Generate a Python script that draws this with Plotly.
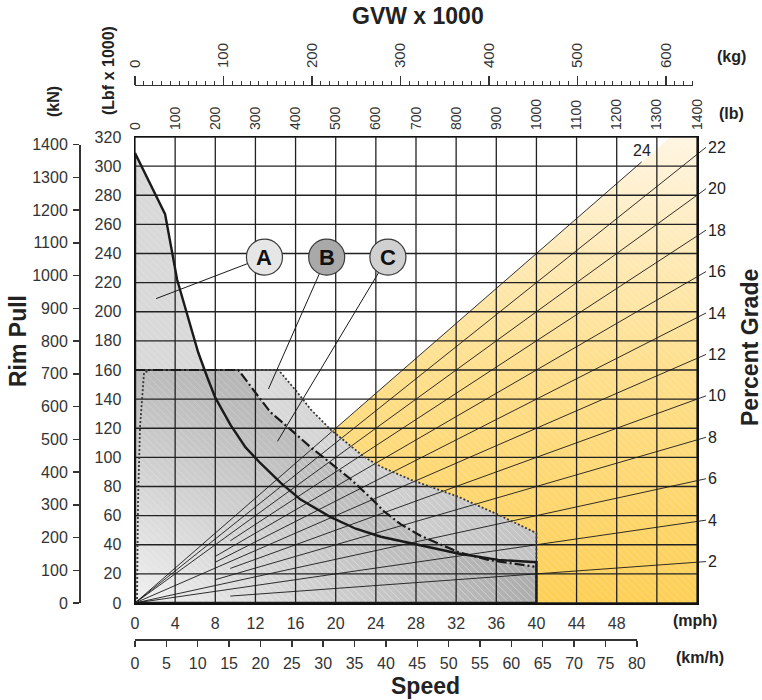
import numpy as np
import plotly.graph_objects as go

W, H = 762, 700

# ---------------- data ----------------
MPH_TICKS = list(range(0, 49, 4))
MPH_GRID = list(range(0, 57, 4))
KMH_TICKS = list(range(0, 81, 5))
KLBF_TICKS = list(range(0, 321, 20))
KN_TICKS = list(range(0, 1401, 100))
LB_TICKS = list(range(0, 1401, 100))
KG_TICKS = list(range(0, 601, 100))

MPH_MAX = 56
KLBF_MAX = 320
LB_MAX = 1400          # GVW (lb x1000) spanning the full speed width
KMH_MAX = 80
KG_MAX = 630
KN_MAX = 1400
KMH_PER_MPH = 1.6
LB_PER_KG = 2.20462
KN_PER_KLBF = 4.44822
MAX_SPEED_MPH = 40

GRADES = [2, 4, 6, 8, 10, 12, 14, 16, 18, 20, 22, 24]
GRADE_START_MPH = [9.5, 0, 0, 8, 9.5, 0, 8, 8, 9.5, 0, 0, 0]
GRADE_END_GVW = [1400, 1400, 1400, 1400, 1400, 1400, 1400, 1400, 1400, 1400, 1400, 1262]

SOLID_MPH = [0, 3.0, 4.2, 5.3, 6.3, 7.2, 8.0, 9.5, 11.0, 12.5, 14.5, 16.5, 19.5, 22.0, 24.5, 27.5, 32.2, 36.2, 40.0]
SOLID_KLBF = [309, 267, 222, 195, 172, 155, 141, 122.5, 107, 96, 82.6, 71, 59, 51, 45.5, 41, 34, 29.6, 28]

DASHDOT_MPH = [0, 10.3, 12.0, 13.5, 15.2, 17.5, 19.5, 21.5, 23.5, 24.8, 26.5, 28.5, 32.2, 35.2, 39.8]
DASHDOT_KLBF = [160, 160, 144.5, 131, 121, 107, 96, 85, 72, 63, 54, 46, 35, 29.6, 25]

DOTTED_MPH = [0.2, 0.3, 0.5, 0.9, 1.5, 14.3, 16.2, 17.5, 19.5, 20.5, 22.8, 24.5, 27.5, 32.2, 36.2, 40.0, 40.0]
DOTTED_KLBF = [0, 69, 121, 158, 160, 160, 144.5, 133, 119, 113.5, 100.5, 93.6, 84.6, 73, 60.6, 48, 0]

LABELS = ["A", "B", "C"]
LABEL_MPH = [12.9, 19.1, 25.2]
LABEL_KLBF = [237.5, 237.5, 237.5]
LABEL_FILL = ["#e6e6e6", "#a9a9a9", "#d0d0d0"]
POINTER_MPH = [2.1, 13.3, 14.2]
POINTER_KLBF = [209, 147, 111]

# ---------------- geometry ----------------
PL, PR, PT, PB = 135, 697, 137, 603
PX_PER_MPH = (PR - PL) / MPH_MAX
PX_PER_KLBF = (PB - PT) / KLBF_MAX
LB_PER_MPH = LB_MAX / MPH_MAX


def fx(px):
    return px / W


def fy(py):
    return 1 - py / H


FONT = "Liberation Sans, Arial, Helvetica, sans-serif"
TXT = "#333333"
DARK = "#1a1a1a"

fig = go.Figure()

# yellow region under the 24 % line
g_top = GRADES[-1] / 100 * LB_PER_MPH
x_top = KLBF_MAX / g_top
yel_x = [0, x_top, MPH_MAX, MPH_MAX, 0]
yel_y = [0, KLBF_MAX, KLBF_MAX, 0, 0]
fig.add_trace(go.Scatter(
    x=yel_x, y=yel_y, fill="toself", mode="lines", line=dict(width=0),
    fillgradient=dict(type="vertical",
                      colorscale=[[0, "#fdcf56"], [0.5, "#fedf8c"], [1, "#fff5e2"]]),
    hoverinfo="skip", showlegend=False))

# C region (dotted outline)
cx = [0] + DOTTED_MPH + [0]
cy = [0] + DOTTED_KLBF + [0]
fig.add_trace(go.Scatter(
    x=cx, y=cy, fill="toself", mode="lines", line=dict(width=0),
    fillgradient=dict(type="horizontal", colorscale=[[0, "#e6e6e6"], [1, "#c2c2c2"]]),
    hoverinfo="skip", showlegend=False))

# B region (dash-dot outline)
bx = [0] + DASHDOT_MPH + [MAX_SPEED_MPH, MAX_SPEED_MPH, 0]
by = [0] + DASHDOT_KLBF + [DASHDOT_KLBF[-1], 0, 0]
fig.add_trace(go.Scatter(
    x=bx, y=by, fill="toself", mode="lines", line=dict(width=0),
    fillgradient=dict(type="vertical", colorscale=[[0, "#f1f1f1"], [1, "#bcbcbc"]]),
    hoverinfo="skip", showlegend=False))
fig.add_trace(go.Scatter(
    x=bx, y=by, fill="toself", mode="lines", line=dict(width=0),
    fillgradient=dict(type="horizontal",
                      colorscale=[[0, "rgba(150,150,150,0)"], [1, "rgba(150,150,150,0.75)"]]),
    hoverinfo="skip", showlegend=False))

# A region (above the B plateau, under the solid curve)
sm = np.array(SOLID_MPH)
sk = np.array(SOLID_KLBF)
plateau = DASHDOT_KLBF[0]
x_cross = float(np.interp(plateau, sk[::-1], sm[::-1]))
above = sk > plateau
ax_ = [0] + list(sm[above]) + [x_cross, 0]
ay_ = [plateau] + list(sk[above]) + [plateau, plateau]
fig.add_trace(go.Scatter(
    x=ax_, y=ay_, fill="toself", mode="lines", line=dict(width=0),
    fillcolor="#d9d9d9", hoverinfo="skip", showlegend=False))

# faint hatch over the shaded regions
for hx, hy in [(yel_x, yel_y), (cx, cy), (ax_, ay_)]:
    fig.add_trace(go.Scatter(
        x=hx, y=hy, fill="toself", mode="lines", line=dict(width=0),
        fillcolor="rgba(0,0,0,0)",
        fillpattern=dict(shape="\\", fgcolor="rgba(255,255,255,0.35)",
                         bgcolor="rgba(0,0,0,0)", size=5, solidity=0.12),
        hoverinfo="skip", showlegend=False))

# grid
gx, gy = [], []
for v in MPH_GRID:
    gx += [v, v, None]
    gy += [0, KLBF_MAX, None]
for v in KLBF_TICKS:
    gx += [0, MPH_MAX, None]
    gy += [v, v, None]
fig.add_trace(go.Scatter(x=gx, y=gy, mode="lines", line=dict(color="#222222", width=1.3),
                         hoverinfo="skip", showlegend=False))

# grade lines
lx, ly = [], []
for g, s, e in zip(GRADES, GRADE_START_MPH, GRADE_END_GVW):
    k = g / 100 * LB_PER_MPH
    xe = e / LB_PER_MPH
    lx += [s, xe, None]
    ly += [s * k, xe * k, None]
fig.add_trace(go.Scatter(x=lx, y=ly, mode="lines", line=dict(color=DARK, width=0.9),
                         hoverinfo="skip", showlegend=False))

# curves
fig.add_trace(go.Scatter(x=DOTTED_MPH, y=DOTTED_KLBF, mode="lines",
                         line=dict(color="#3a3a3a", width=1.8, dash="2px,2px"),
                         hoverinfo="skip", showlegend=False))
fig.add_trace(go.Scatter(x=DASHDOT_MPH, y=DASHDOT_KLBF, mode="lines",
                         line=dict(color=DARK, width=2.2, dash="10px,3px,2px,3px"),
                         hoverinfo="skip", showlegend=False))
fig.add_trace(go.Scatter(x=[MAX_SPEED_MPH, 0] + SOLID_MPH + [MAX_SPEED_MPH],
                         y=[0, 0] + SOLID_KLBF + [0], mode="lines",
                         line=dict(color=DARK, width=2.4),
                         hoverinfo="skip", showlegend=False))

# dummy traces so the secondary axes exist
fig.add_trace(go.Scatter(x=[None], y=[None], xaxis="x2", yaxis="y", showlegend=False, hoverinfo="skip"))
fig.add_trace(go.Scatter(x=[None], y=[None], xaxis="x3", yaxis="y", showlegend=False, hoverinfo="skip"))
fig.add_trace(go.Scatter(x=[None], y=[None], xaxis="x4", yaxis="y", showlegend=False, hoverinfo="skip"))
fig.add_trace(go.Scatter(x=[None], y=[None], xaxis="x", yaxis="y2", showlegend=False, hoverinfo="skip"))

# ---------------- shapes (pointers + circles) ----------------
shapes = []
for i in range(len(LABELS)):
    shapes.append(dict(type="line", xref="x", yref="y", layer="above",
                       x0=LABEL_MPH[i], y0=LABEL_KLBF[i], x1=POINTER_MPH[i], y1=POINTER_KLBF[i],
                       line=dict(color=DARK, width=1)))
for i in range(len(LABELS)):
    shapes.append(dict(type="circle", xref="x", yref="y", layer="above",
                       xsizemode="pixel", ysizemode="pixel",
                       xanchor=LABEL_MPH[i], yanchor=LABEL_KLBF[i],
                       x0=-18, x1=18, y0=-18, y1=18,
                       fillcolor=LABEL_FILL[i], line=dict(color="#3a3a3a", width=1.2)))

# ---------------- annotations ----------------
ann = []
for i, t in enumerate(LABELS):
    ann.append(dict(x=LABEL_MPH[i], y=LABEL_KLBF[i], xref="x", yref="y", text=f"<b>{t}</b>",
                    showarrow=False, xanchor="center", yanchor="middle",
                    font=dict(family=FONT, size=22, color="#111111")))


def slope_px(g):
    return (g / 100 * LB_PER_MPH) * PX_PER_KLBF / PX_PER_MPH


for g, e in zip(GRADES, GRADE_END_GVW):
    xe = e / LB_PER_MPH
    ye = xe * g / 100 * LB_PER_MPH
    if e >= LB_MAX:
        ann.append(dict(x=xe, y=ye, xref="x", yref="y", text=str(g), showarrow=True,
                        arrowhead=0, arrowwidth=0.9, arrowcolor=DARK,
                        ax=9, ay=-slope_px(g) * 9, xanchor="left", yanchor="middle",
                        font=dict(family=FONT, size=16, color="#222222")))
    else:
        ann.append(dict(x=xe, y=ye, xref="x", yref="y", text=str(g), showarrow=False,
                        yanchor="bottom", xanchor="center", yshift=1,
                        font=dict(family=FONT, size=16, color="#222222")))

bold = dict(family=FONT, size=23, color="#222222")
unit = dict(family=FONT, size=16, color="#222222")


def pann(x, y, text, font, angle=0):
    return dict(x=fx(x), y=fy(y), xref="paper", yref="paper", text=text, showarrow=False,
                xanchor="center", yanchor="middle", font=font, textangle=angle)


ann += [
    pann(418, 16, "<b>GVW x 1000</b>", bold),
    pann(731, 57, "<b>(kg)</b>", unit),
    pann(731, 113, "<b>(lb)</b>", unit),
    pann(54, 102, "<b>(kN)</b>", unit, -90),
    pann(108, 71, "<b>(Lbf x 1000)</b>", unit, -90),
    pann(18, 341, "<b>Rim Pull</b>", bold, -90),
    pann(750, 348, "<b>Percent Grade</b>", bold, -90),
    pann(695, 620, "<b>(mph)</b>", unit),
    pann(700, 657, "<b>(km/h)</b>", unit),
    pann(425, 686, "<b>Speed</b>", bold),
]

tickfont = dict(family=FONT, size=16, color=TXT)
ydom = [fy(PB), fy(PT)]
xdom = [fx(PL), fx(PR)]
kmh_end = PL + KMH_MAX / KMH_PER_MPH * PX_PER_MPH
kg_end = PL + KG_MAX * LB_PER_KG / LB_PER_MPH * PX_PER_MPH
kn_top = PB - KN_MAX / KN_PER_KLBF * PX_PER_KLBF

fig.update_layout(
    template="none",
    width=W, height=H, margin=dict(l=0, r=0, t=0, b=0, autoexpand=False),
    paper_bgcolor="white", plot_bgcolor="rgba(0,0,0,0)", showlegend=False,
    hovermode=False,
    shapes=shapes, annotations=ann,
    xaxis=dict(domain=xdom, range=[0, MPH_MAX], tickvals=MPH_TICKS, showgrid=False, zeroline=False,
               showline=True, mirror=True, linecolor="#111111", linewidth=1.5, ticks="",
               tickfont=tickfont, ticklabelstandoff=5, anchor="y", fixedrange=True, automargin=False),
    yaxis=dict(domain=ydom, range=[0, KLBF_MAX], tickvals=KLBF_TICKS, showgrid=False, zeroline=False,
               showline=True, mirror=True, linecolor="#111111", linewidth=1.5, ticks="",
               tickfont=tickfont, ticklabelstandoff=9, anchor="x", fixedrange=True, automargin=False),
    xaxis2=dict(domain=[fx(PL), fx(kmh_end)], range=[0, KMH_MAX], tickvals=KMH_TICKS,
                anchor="free", position=fy(639), side="bottom", showgrid=False, zeroline=False,
                showline=True, linecolor="#333333", linewidth=1.5, ticks="outside", ticklen=6,
                tickwidth=1.5, tickcolor="#333333", tickfont=tickfont, ticklabelstandoff=3,
                automargin=False, fixedrange=True),
    xaxis3=dict(overlaying="x", side="top", range=[0, LB_MAX], tickvals=LB_TICKS, anchor="y",
                showgrid=False, zeroline=False, showline=False, ticks="", tickangle=-90,
                tickfont=dict(family=FONT, size=14, color=TXT), ticklabelstandoff=6,
                automargin=False, fixedrange=True),
    xaxis4=dict(domain=[fx(PL), fx(kg_end)], range=[0, KG_MAX], tickvals=KG_TICKS,
                anchor="free", position=fy(85), side="top", showgrid=False, zeroline=False,
                showline=True, linecolor="#333333", linewidth=1.3, ticks="outside", ticklen=9,
                tickwidth=1.3, tickcolor="#333333", tickangle=-90,
                minor=dict(dtick=10, ticks="outside", ticklen=4, tickwidth=1, tickcolor="#333333"),
                tickfont=dict(family=FONT, size=15, color=TXT), ticklabelstandoff=5,
                automargin=False, fixedrange=True),
    yaxis2=dict(domain=[fy(PB), fy(kn_top)], range=[0, KN_MAX], tickvals=KN_TICKS,
                anchor="free", position=fx(79), side="left", showgrid=False, zeroline=False,
                showline=True, linecolor="#333333", linewidth=1.5, ticks="outside", ticklen=6,
                tickwidth=1.5, tickcolor="#333333", tickfont=tickfont, ticklabelstandoff=2,
                automargin=False, fixedrange=True),
)

# remove the browser's default 8px page margin so the figure fills the window exactly
fig.write_html("out.html", config={"displayModeBar": False, "staticPlot": True},
               post_script="document.body.style.margin='0px';")
